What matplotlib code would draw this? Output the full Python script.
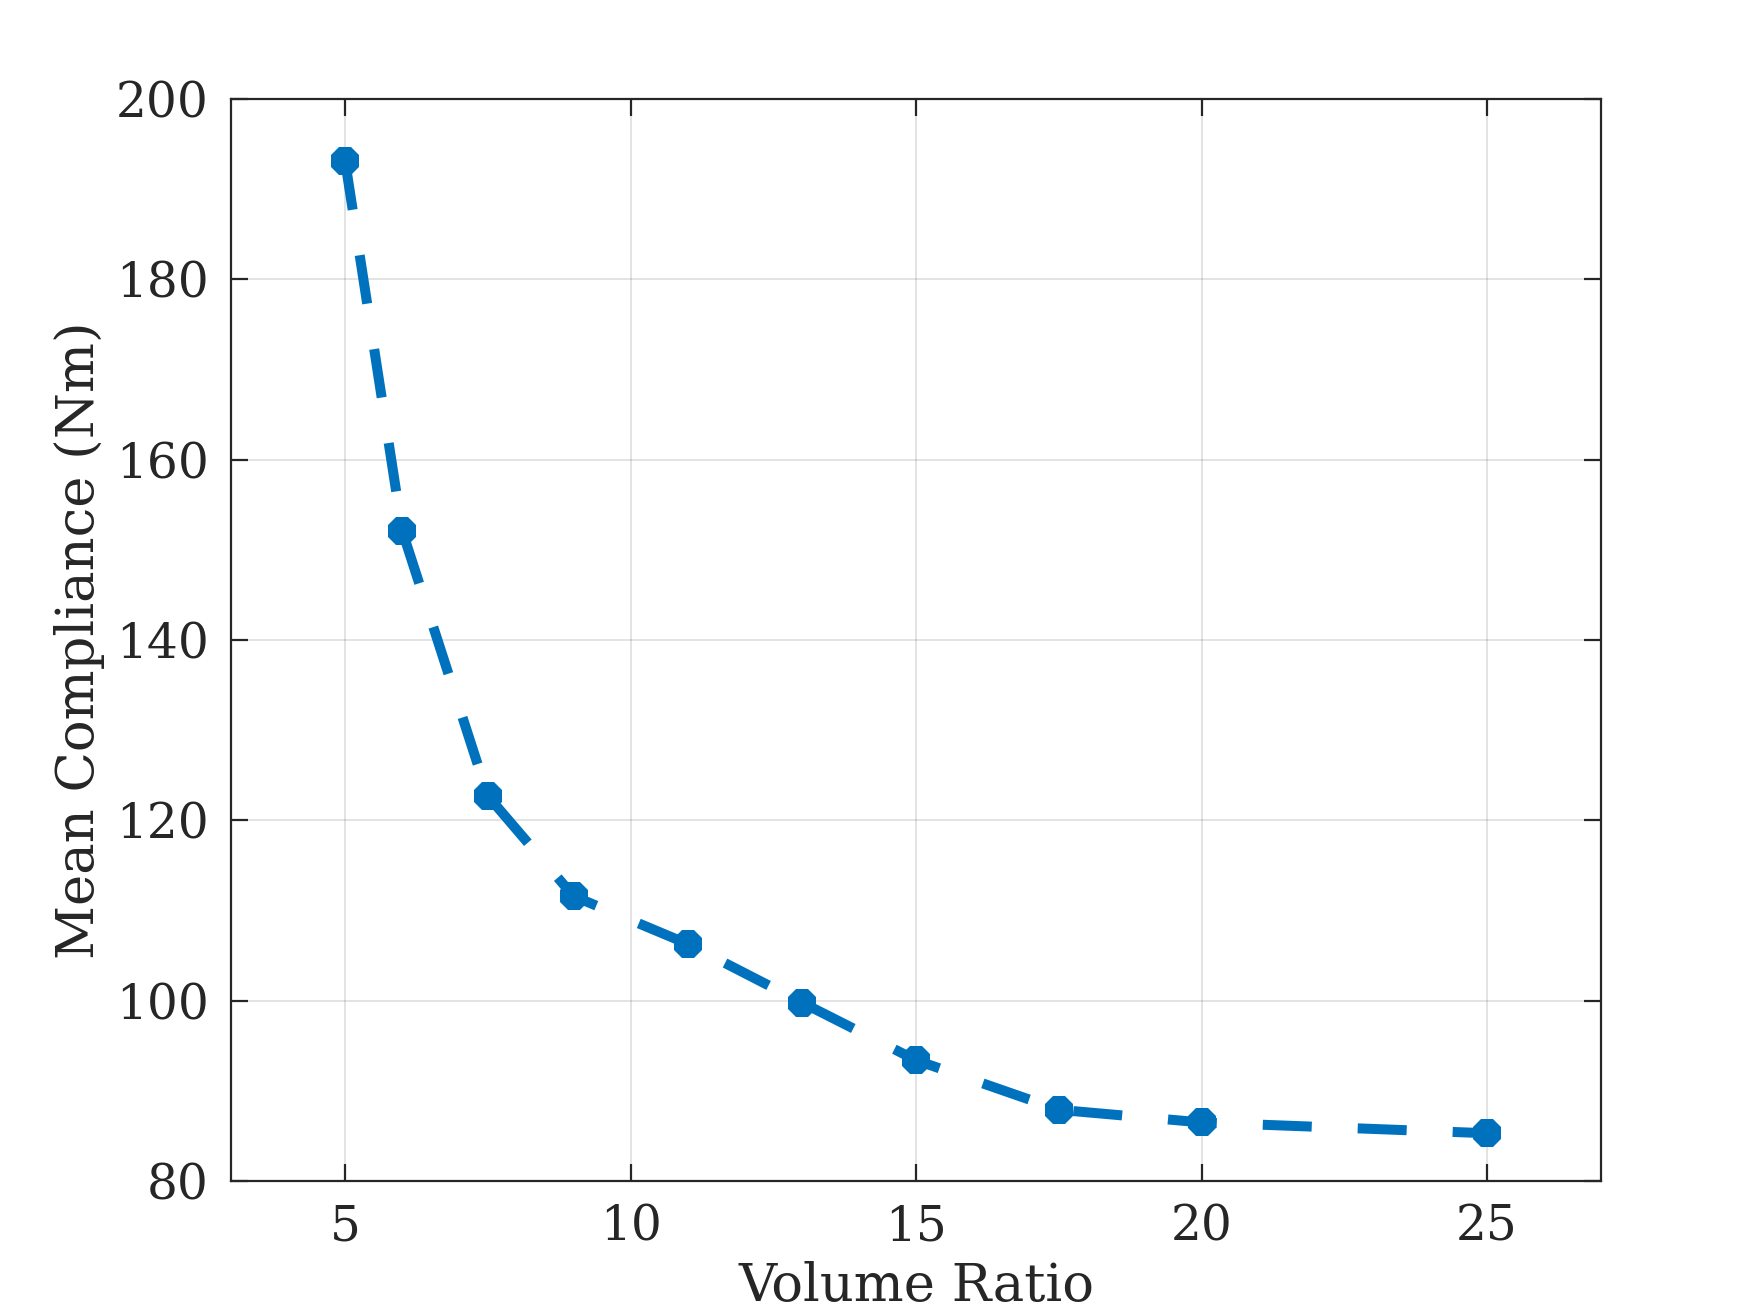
import matplotlib
matplotlib.use("Agg")
import matplotlib.pyplot as plt

volume_ratio = [5, 6, 7.5, 9, 11, 13, 15, 17.5, 20, 25]
mean_compliance = [193.1, 152.1, 122.7, 111.6, 106.3, 99.8, 93.4, 87.9, 86.5, 85.3]
x_ticks = [5, 10, 15, 20, 25]
y_ticks = [80, 100, 120, 140, 160, 180, 200]

plt.rcParams['font.family'] = ['DejaVu Serif']
txt = '#262626'

fig = plt.figure(figsize=(8.75, 6.565), dpi=200)
ax = fig.add_axes([0.132, 0.1005, 0.783, 0.824])
ax.plot(volume_ratio, mean_compliance, color='#0072BD', linewidth=3.6,
        dashes=(4.9, 4.6), marker='8', markersize=11, markeredgewidth=0,
        dash_capstyle='butt')
ax.set_xlim(3, 27)
ax.set_ylim(80, 200)
ax.set_xticks(x_ticks)
ax.set_yticks(y_ticks)
ax.grid(True, color='#262626', alpha=0.15, linewidth=0.6)
ax.set_axisbelow(True)
for s in ax.spines.values():
    s.set_color(txt)
    s.set_linewidth(0.8)
ax.tick_params(direction='in', top=True, right=True, length=6, width=0.8,
               colors=txt, labelsize=17.5, pad=8)
ax.set_xlabel('Volume Ratio', fontsize=19, color=txt, labelpad=4)
ax.set_ylabel('Mean Compliance (Nm)', fontsize=19, color=txt, labelpad=4)
fig.savefig('out.png', dpi=200)
